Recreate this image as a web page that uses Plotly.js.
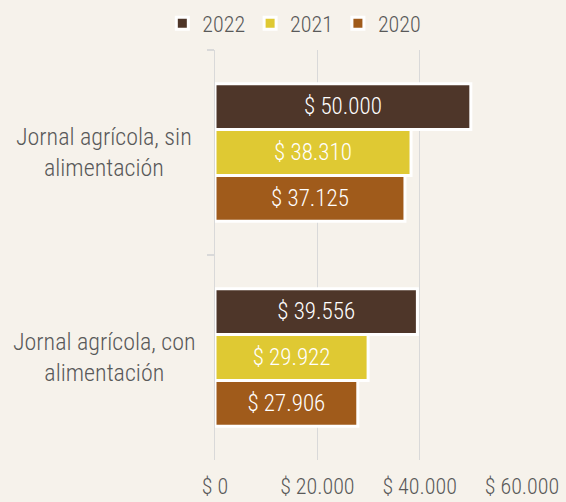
<!DOCTYPE html>
<html>
<head>
<meta charset="utf-8">
<script src="https://cdn.plot.ly/plotly-3.0.1.min.js"></script>
<style>html,body{margin:0;padding:0;background:#f6f2eb;}</style>
</head>
<body>
<div id="chart" style="width:566px;height:502px;"></div>
<script>
const categories = ["Jornal agrícola, sin alimentación", "Jornal agrícola, con alimentación"];
const categoryLabels = ["Jornal agrícola, sin<br>alimentación", "Jornal agrícola, con<br>alimentación"];
const years = ["2022", "2021", "2020"];
const values2022 = [50000, 39556];
const values2021 = [38310, 29922];
const values2020 = [37125, 27906];
const colors = ["#4e3629", "#dfc933", "#a05b1b"];
const xTicks = [0, 20000, 40000, 60000];
const xTickLabels = ["$ 0", "$ 20.000", "$ 40.000", "$ 60.000"];

const FONT = "'Roboto Condensed', Roboto, sans-serif";
const W = 350;
function fmt(v){ return "$ " + String(v).replace(/\B(?=(\d{3})+(?!\d))/g, "."); }

const series = [values2022, values2021, values2020];
const traces = series.map((vals, i) => ({
  type: "bar",
  orientation: "h",
  name: years[i],
  y: categories,
  x: vals,
  text: vals.map(fmt),
  textposition: "inside",
  insidetextanchor: "middle",
  textangle: 0,
  textfont: {family: FONT, size: 23, color: "#ffffff", weight: W},
  marker: {color: colors[i], line: {color: "#ffffff", width: 3}},
  hoverinfo: "skip"
}));

const annotations = categories.map((c, i) => ({
  xref: "paper", yref: "y",
  x: -0.36, y: c,
  xanchor: "center", yanchor: "middle",
  text: categoryLabels[i],
  showarrow: false,
  align: "center",
  font: {family: FONT, size: 24, color: "#595959", weight: W}
}));

const layout = {
  width: 566, height: 502,
  paper_bgcolor: "#f6f2eb",
  plot_bgcolor: "#f6f2eb",
  margin: {l: 215, r: 44, t: 50, b: 42},
  barmode: "group",
  bargap: 0.33,
  bargroupgap: 0,
  showlegend: true,
  legend: {
    orientation: "h",
    xref: "container", yref: "container",
    x: 0.52, xanchor: "center",
    y: 0.995, yanchor: "top",
    traceorder: "normal",
    font: {family: FONT, size: 22, color: "#595959", weight: W},
    itemwidth: 30,
    bgcolor: "rgba(0,0,0,0)"
  },
  xaxis: {
    range: [0, 60000],
    tickvals: xTicks,
    ticktext: xTickLabels,
    showgrid: true,
    gridcolor: "#d9d9d9",
    gridwidth: 1,
    zeroline: false,
    showline: false,
    ticks: "",
    ticklabelstandoff: 11,
    tickfont: {family: FONT, size: 22, color: "#595959", weight: W},
    fixedrange: true
  },
  yaxis: {
    type: "category",
    categoryorder: "array",
    categoryarray: categories,
    autorange: "reversed",
    showticklabels: false,
    showline: true,
    linecolor: "#d9d9d9",
    linewidth: 1.5,
    ticks: "outside",
    tickson: "boundaries",
    ticklen: 7,
    tickcolor: "#d9d9d9",
    tickwidth: 1.5,
    showgrid: false,
    fixedrange: true
  },
  annotations: annotations
};

Plotly.newPlot("chart", traces, layout, {displayModeBar: false, staticPlot: true});
</script>
</body>
</html>
